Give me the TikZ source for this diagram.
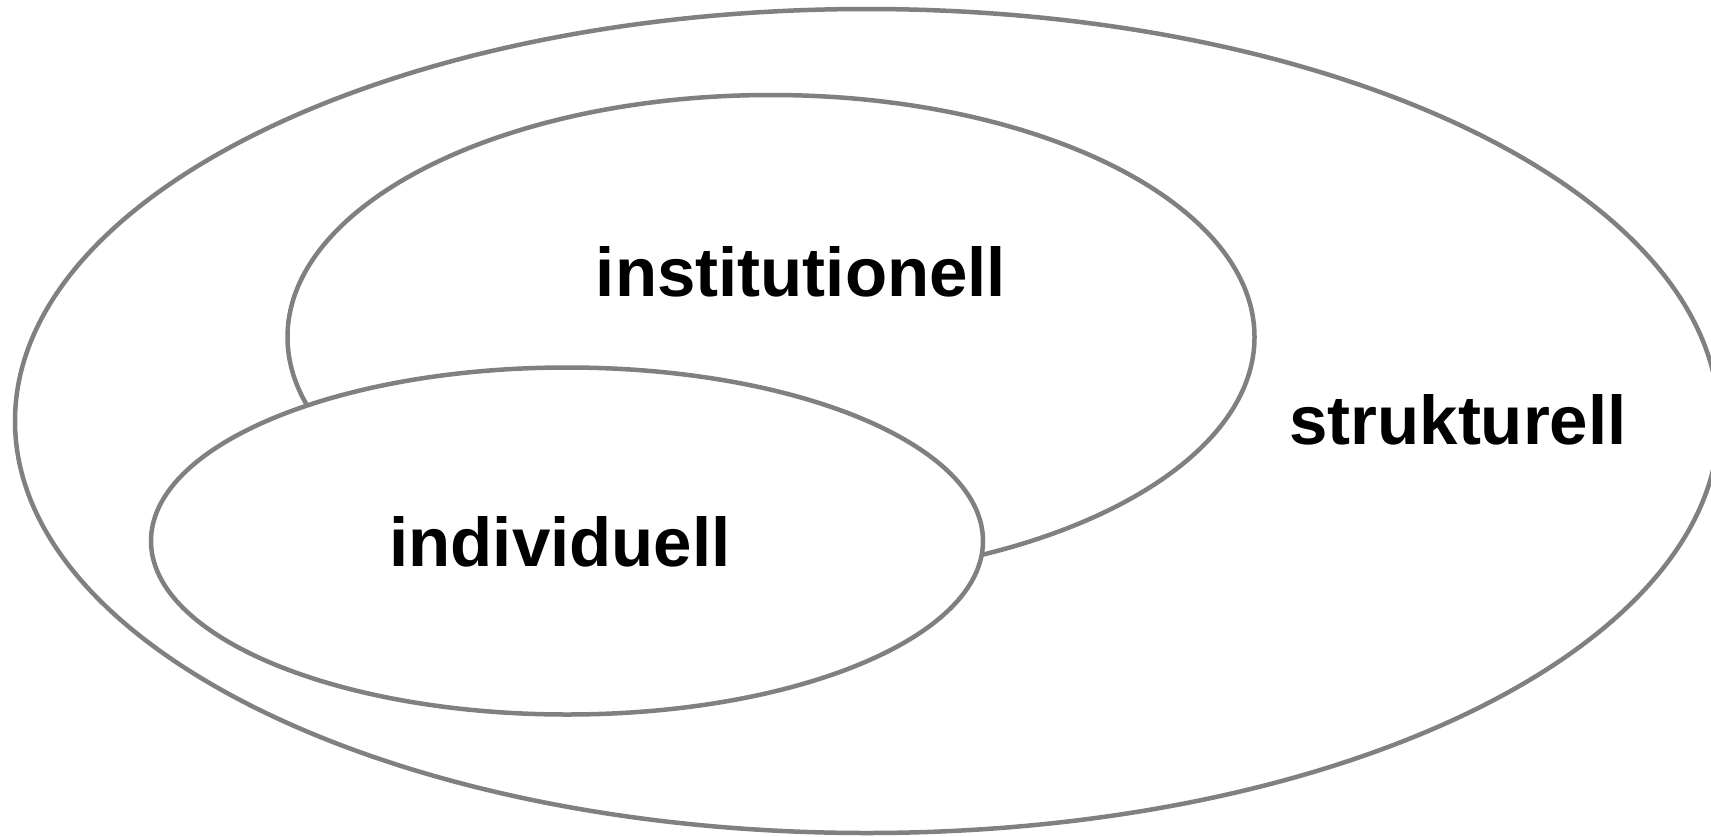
\documentclass[tikz,border=0pt]{standalone}
\usepackage{fontspec}
\setmainfont{Liberation Sans}
\usetikzlibrary{shapes.geometric}
\definecolor{ringgray}{HTML}{808080}
\tikzset{
  ring/.style={ellipse, draw=ringgray, fill=white, line width=4.5pt, inner sep=0pt},
  label/.style={anchor=base, inner sep=0pt, font=\fontsize{69}{84}\selectfont\bfseries, text=black}
}
\begin{document}
\begin{tikzpicture}[x=1pt, y=-1pt]
  \useasboundingbox (0,0) rectangle (1711,836);
  \clip (0,0) rectangle (1711,836);
  % three nested levels
  \node[ring, minimum width=1704pt, minimum height=824pt] (struct) at (867,421) {};
  \node[ring, minimum width=967pt, minimum height=484pt] (inst) at (771,337) {};
  \node[ring, minimum width=832pt, minimum height=347pt] (indiv) at (567,541) {};
  % level names
  \node[label] (tstruct) at (1458,444) {strukturell};
  \node[label] (tinst) at (801,296) {institutionell};
  \node[label] (tindiv) at (560,566) {individuell};
\end{tikzpicture}
\end{document}
